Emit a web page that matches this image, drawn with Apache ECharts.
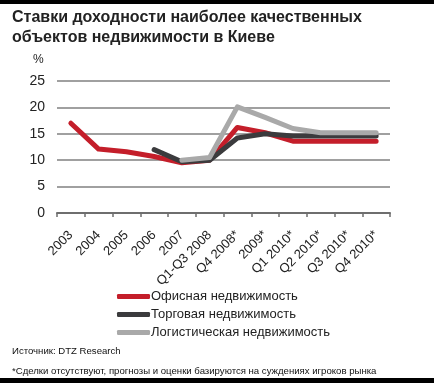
<!DOCTYPE html>
<html><head><meta charset="utf-8">
<script src="https://cdn.jsdelivr.net/npm/echarts@6/dist/echarts.min.js"></script>
<style>html,body{margin:0;padding:0;background:#fff}#c{width:436px;height:383px}</style>
</head><body><div id="c"></div>
<script>
const categories = ['2003','2004','2005','2006','2007','Q1-Q3 2008','Q4 2008*','2009*','Q1 2010*','Q2 2010*','Q3 2010*','Q4 2010*'];
const officeValues = [17, 12.1, 11.6, 10.7, 9.5, 10, 16.2, 15.2, 13.6, 13.6, 13.6, 13.6];
const retailValues = [null, null, null, 12, 9.7, 10, 14.2, 15, 14.6, 14.6, 14.6, 14.6];
const logisticsValues = [null, null, null, null, 10, 10.5, 20.1, 18.1, 16, 15.2, 15.2, 15.2];
const yTicks = [0, 5, 10, 15, 20, 25];
const seriesNames = ['Офисная недвижимость', 'Торговая недвижимость', 'Логистическая недвижимость'];
const titleLines = ['Ставки доходности наиболее качественных', 'объектов недвижимости в Киеве'];
const unitLabel = '%';
const sourceText = 'Источник: DTZ Research';
const noteText = '*Сделки отсутствуют, прогнозы и оценки базируются на суждениях игроков рынка';

const colors = ['#c41e2a', '#3b3b3d', '#a9a9a9'];
const font = 'Arial, "Liberation Sans", sans-serif';
const chart = echarts.init(document.getElementById('c'), null, {renderer: 'canvas'});
const mk = (name, data, color) => ({
  name, type: 'line', data, symbol: 'none', connectNulls: false,
  lineStyle: {width: 5, color, cap: 'round', join: 'round'}, itemStyle: {color}
});
chart.setOption({
  animation: false,
  backgroundColor: '#fff',
  textStyle: {fontFamily: font},
  grid: {left: 57, right: 46, top: 81, bottom: 170, containLabel: false},
  xAxis: {
    type: 'category', data: categories, boundaryGap: true,
    axisLine: {lineStyle: {color: '#6e6e6e', width: 2}},
    axisTick: {show: true, length: 4, lineStyle: {color: '#6e6e6e', width: 1.5}},
    axisLabel: {rotate: 45, interval: 0, fontSize: 13, color: '#222', margin: 20, fontFamily: font},
    splitLine: {show: false}
  },
  yAxis: {
    type: 'value', min: yTicks[0], max: yTicks[yTicks.length - 1], interval: 5,
    axisLine: {show: false}, axisTick: {show: false},
    axisLabel: {fontSize: 14, color: '#222', margin: 12},
    splitLine: {lineStyle: {color: '#808080', width: 1.5}}
  },
  legend: {
    orient: 'vertical', left: 117, top: 290, padding: 0, itemWidth: 33, itemHeight: 5, itemGap: 5,
    icon: 'roundRect',
    textStyle: {fontSize: 13, color: '#222', padding: [0, 0, 0, -4]},
    data: seriesNames
  },
  graphic: [
    {type: 'rect', left: 0, top: 0, shape: {width: 434, height: 4}, style: {fill: '#000'}},
    {type: 'rect', left: 0, top: 378, shape: {width: 434, height: 5}, style: {fill: '#000'}},
    {type: 'text', left: 12, top: 10, style: {text: titleLines[0], font: 'bold 16px ' + font, fill: '#222'}},
    {type: 'text', left: 12, top: 30, style: {text: titleLines[1], font: 'bold 16px ' + font, fill: '#222'}},
    {type: 'text', left: 33, top: 54, style: {text: unitLabel, font: '12px ' + font, fill: '#222'}},
    {type: 'text', left: 12, top: 346, style: {text: sourceText, font: '9.6px ' + font, fill: '#111'}},
    {type: 'text', left: 12, top: 366, style: {text: noteText, font: '9.6px ' + font, fill: '#111'}}
  ],
  series: [
    mk(seriesNames[0], officeValues, colors[0]),
    mk(seriesNames[1], retailValues, colors[1]),
    mk(seriesNames[2], logisticsValues, colors[2])
  ]
});
</script></body></html>
